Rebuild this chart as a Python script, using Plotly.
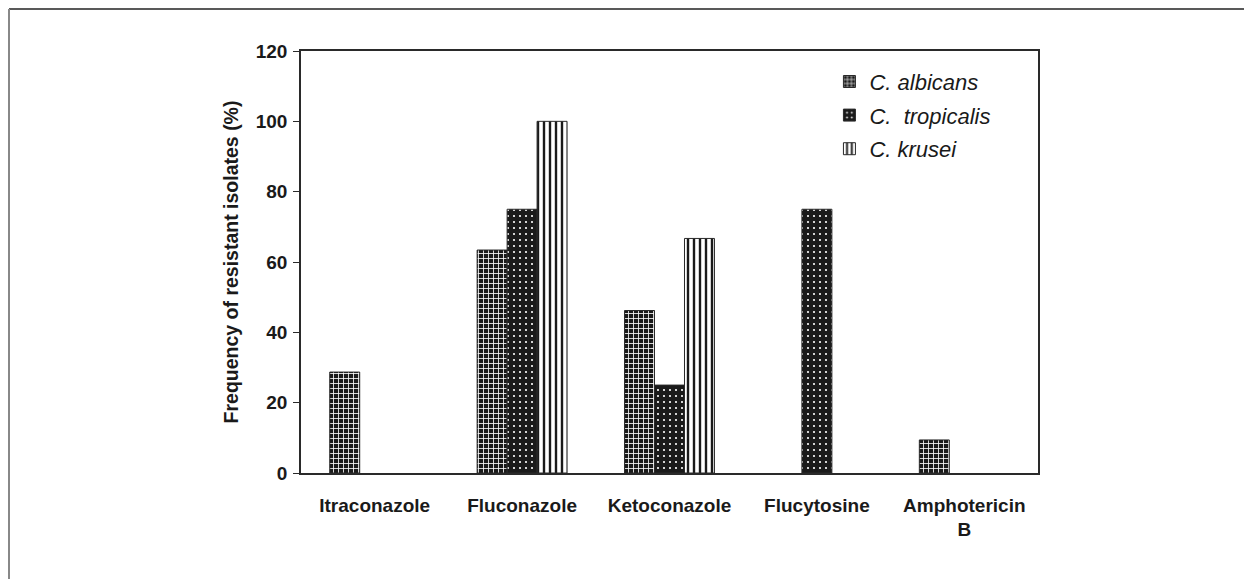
import plotly.graph_objects as go

categories = ["Itraconazole", "Fluconazole", "Ketoconazole", "Flucytosine", "Amphotericin<br>B"]
albicans = [28.7, 63.4, 46.2, None, 9.4]
tropicalis = [None, 75.0, 25.0, 75.0, None]
krusei = [None, 100.0, 66.7, None, None]
series_names = ["C. albicans", "C.  tropicalis", "C. krusei"]
y_ticks = [0, 20, 40, 60, 80, 100, 120]

FONT = "Liberation Sans, Arial, sans-serif"
DARK = "#2a2a2a"

# page body has an 8px default margin -> figure is placed at (8, 8)
W, H = 1244, 571
ML, MT = 293, 43
PW, PH = 737, 422
MR = W - ML - PW
MB = H - MT - PH

patterns = [
    dict(shape="+", fgcolor="white", bgcolor="#1a1a1a", size=5, solidity=0.3, fillmode="replace"),
    dict(shape=".", fgcolor="white", bgcolor="#1a1a1a", size=6, solidity=0.1, fillmode="replace"),
    dict(shape="|", fgcolor="#1a1a1a", bgcolor="white", size=6, solidity=0.4, fillmode="replace"),
]

fig = go.Figure()
for name, vals, pat in zip(series_names, [albicans, tropicalis, krusei], patterns):
    fig.add_trace(go.Bar(
        x=categories, y=vals, name=name, legendgroup=name,
        marker=dict(color="white", pattern=pat, line=dict(color=DARK, width=1)),
    ))

fig.update_layout(
    width=W, height=H,
    margin=dict(l=ML, r=MR, t=MT, b=MB),
    paper_bgcolor="white", plot_bgcolor="white",
    barmode="group", bargap=0.39, bargroupgap=0,
    font=dict(family=FONT, color="#1a1a1a"),
    legend=dict(
        x=0.717, y=0.977, xanchor="left", yanchor="top",
        font=dict(family=FONT, size=22, style="italic", color="#1a1a1a"),
        bgcolor="rgba(0,0,0,0)", itemwidth=30, tracegroupgap=2,
    ),
    showlegend=True,
)

fig.update_xaxes(
    showline=True, linecolor=DARK, linewidth=1.6, mirror=True,
    ticks="", showgrid=False,
    tickfont=dict(family=FONT, size=19, weight="bold", color="#1a1a1a"),
    ticklabelstandoff=14,
)
fig.update_yaxes(
    range=[0, 120], tickvals=y_ticks, showgrid=False, zeroline=False,
    showline=True, linecolor=DARK, linewidth=1.6, mirror=True,
    ticks="outside", ticklen=6, tickwidth=1.2, tickcolor=DARK,
    tickfont=dict(family=FONT, size=19, weight="bold", color="#1a1a1a"),
    ticklabelstandoff=2,
    title=dict(text="Frequency of resistant isolates (%)",
               font=dict(family=FONT, size=19.5, weight="bold", color="#1a1a1a"),
               standoff=12),
)

# outer figure frame (top and left edges), as close to the page edge as possible
fig.add_shape(type="line", xref="paper", yref="paper",
              x0=(1 - ML) / PW, x1=(W - ML) / PW,
              y0=(MT + PH - 1) / PH, y1=(MT + PH - 1) / PH,
              line=dict(color="#222222", width=1.5))
fig.add_shape(type="line", xref="paper", yref="paper",
              x0=(1 - ML) / PW, x1=(1 - ML) / PW,
              y0=(MT + PH - 1) / PH, y1=(MT + PH - H - 5) / PH,
              line=dict(color="#888888", width=2))

fig.write_html("out.html")
